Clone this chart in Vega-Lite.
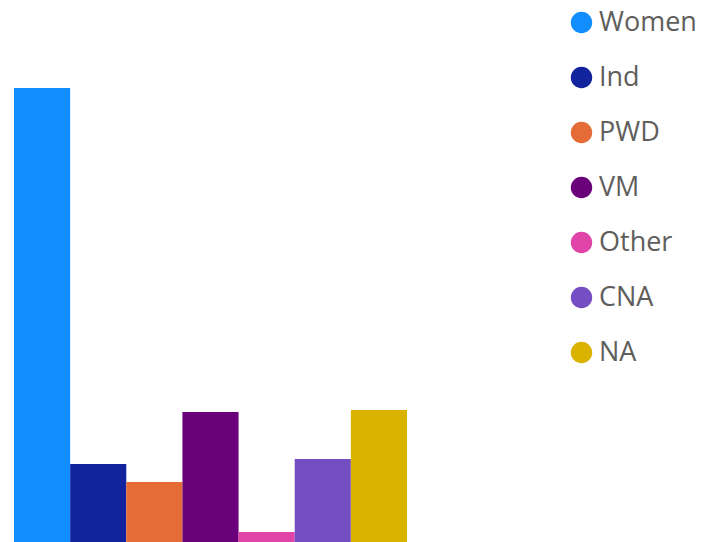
{
  "$schema": "https://vega.github.io/schema/vega-lite/v6.json",
  "width": 393,
  "height": 542,
  "autosize": {"type": "none"},
  "padding": {"left": 14, "top": 0, "right": 306, "bottom": 0},
  "background": "white",
  "config": {"view": {"stroke": null}},
  "data": {
    "values": [
      {"group": "Women", "value": 454},
      {"group": "Ind", "value": 78},
      {"group": "PWD", "value": 60},
      {"group": "VM", "value": 130},
      {"group": "Other", "value": 10},
      {"group": "CNA", "value": 83},
      {"group": "NA", "value": 132}
    ]
  },
  "mark": {"type": "bar"},
  "encoding": {
    "x": {
      "field": "group",
      "type": "nominal",
      "sort": ["Women", "Ind", "PWD", "VM", "Other", "CNA", "NA"],
      "scale": {"paddingInner": 0, "paddingOuter": 0},
      "axis": null
    },
    "y": {
      "field": "value",
      "type": "quantitative",
      "scale": {"domain": [0, 542], "nice": false},
      "axis": null
    },
    "color": {
      "field": "group",
      "type": "nominal",
      "scale": {
        "domain": ["Women", "Ind", "PWD", "VM", "Other", "CNA", "NA"],
        "range": ["#118DFF", "#12239E", "#E66C37", "#6B007B", "#E044A7", "#744EC2", "#D9B300"]
      },
      "legend": {
        "title": null,
        "orient": "none",
        "legendX": 554,
        "legendY": 9,
        "padding": 0,
        "symbolType": "circle",
        "symbolSize": 460,
        "symbolStrokeWidth": 0,
        "symbolOpacity": 1,
        "labelFont": "Open Sans",
        "labelFontSize": 27,
        "labelColor": "#605E5C",
        "labelOffset": 4,
        "rowPadding": 27,
        "labelLimit": 200
      }
    }
  }
}
